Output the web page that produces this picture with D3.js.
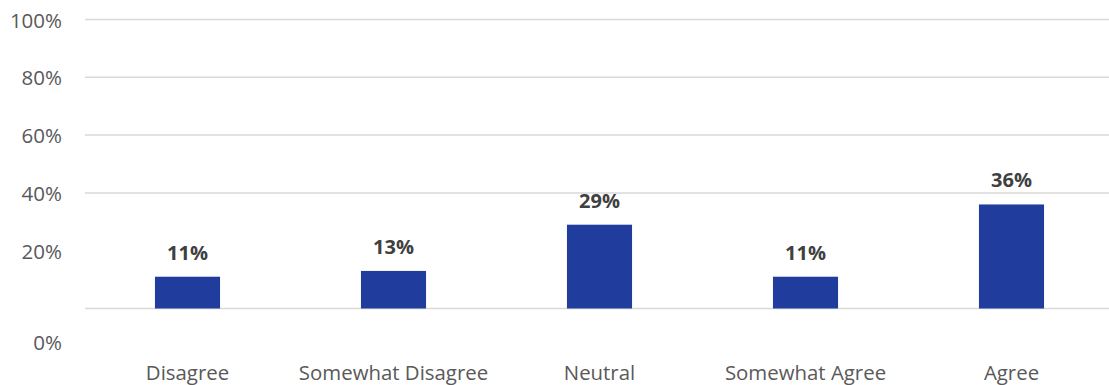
<!DOCTYPE html>
<html><head><meta charset="utf-8">
<script src="https://cdn.jsdelivr.net/npm/d3@7"></script>
<style>body{margin:0;background:#fff}svg{display:block}</style>
</head><body>
<script>
const categories = ["Disagree","Somewhat Disagree","Neutral","Somewhat Agree","Agree"];
const values = [0.11,0.13,0.29,0.11,0.36];
const valueLabels = ["11%","13%","29%","11%","36%"];
const tickValues = [0,0.2,0.4,0.6,0.8,1.0];
const tickLabels = ["0%","20%","40%","60%","80%","100%"];
const gridValues = [0,0.4,0.6,0.8,1.0];

const W=1109,H=385;
const svg=d3.select("body").append("svg").attr("width",W).attr("height",H);
const font="'Open Sans', sans-serif";
const x=d3.scaleBand().domain(categories).range([84.5,1114.5]).paddingInner(0.684).paddingOuter(0.342);
const y=d3.scaleLinear().domain([0,1]).range([308.5,19.5]);

svg.append("g").selectAll("line").data(gridValues).join("line")
  .attr("x1",85).attr("x2",W).attr("y1",d=>y(d)).attr("y2",d=>y(d))
  .attr("stroke","#d9d9d9").attr("stroke-width",1.5);

svg.append("g").selectAll("text").data(tickValues).join("text")
  .attr("x",62).attr("y",(d,i)=> d===0 ? 343 : y(d)+1)
  .attr("dy","0.35em").attr("text-anchor","end")
  .attr("font-family",font).attr("font-size",20.5).attr("fill","#595959")
  .text((d,i)=>tickLabels[i]);

svg.append("g").selectAll("rect").data(values).join("rect")
  .attr("x",(d,i)=>x(categories[i])).attr("width",x.bandwidth())
  .attr("y",d=>y(d)).attr("height",d=>y(0)-y(d)).attr("fill","#203c9c");

svg.append("g").selectAll("text").data(values).join("text")
  .attr("x",(d,i)=>x(categories[i])+x.bandwidth()/2).attr("y",d=>y(d)-24)
  .attr("dy","0.35em").attr("text-anchor","middle")
  .attr("font-family",font).attr("font-size",20).attr("font-weight","bold").attr("fill","#404040")
  .text((d,i)=>valueLabels[i]);

svg.append("g").selectAll("text").data(categories).join("text")
  .attr("x",d=>x(d)+x.bandwidth()/2).attr("y",373).attr("dy","0.35em")
  .attr("text-anchor","middle")
  .attr("font-family",font).attr("font-size",20.4).attr("fill","#595959")
  .text(d=>d);
</script>
</body></html>
